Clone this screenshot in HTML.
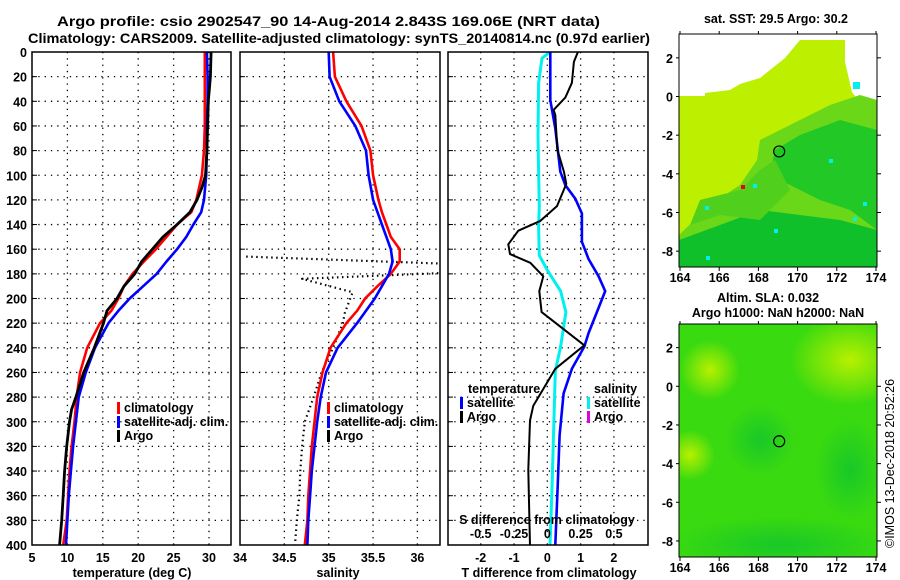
<!DOCTYPE html>
<html><head><meta charset="utf-8">
<style>
html,body{margin:0;padding:0;background:#fff;}
svg{display:block;font-family:"Liberation Sans",sans-serif;}
.t{font-weight:bold;font-size:14px;fill:#000;}
.tk{font-weight:bold;font-size:12.5px;fill:#000;}
</style></head>
<body>
<svg id="fig" width="900" height="580" viewBox="0 0 900 580" xmlns="http://www.w3.org/2000/svg">
<defs>
<clipPath id="c1"><rect x="32" y="52" width="199" height="493"/></clipPath>
<clipPath id="c2"><rect x="240" y="52" width="200" height="493"/></clipPath>
<clipPath id="c3"><rect x="448" y="52" width="200" height="493"/></clipPath>
<clipPath id="cm1"><rect x="679" y="34" width="198" height="233"/></clipPath>
<clipPath id="cm2"><rect x="679" y="324" width="198" height="233"/></clipPath>
<radialGradient id="gy" cx="50%" cy="50%" r="50%"><stop offset="0" stop-color="#b8f000"/><stop offset="1" stop-color="#b8f000" stop-opacity="0"/></radialGradient>
<radialGradient id="gd" cx="50%" cy="50%" r="50%"><stop offset="0" stop-color="#18c828"/><stop offset="1" stop-color="#18c828" stop-opacity="0"/></radialGradient>
</defs>
<text class="t" x="57" y="26" textLength="543" lengthAdjust="spacingAndGlyphs">Argo profile: csio 2902547_90 14-Aug-2014 2.843S 169.06E (NRT data)</text>
<text class="t" x="28" y="43" textLength="622" lengthAdjust="spacingAndGlyphs">Climatology: CARS2009. Satellite-adjusted climatology: synTS_20140814.nc (0.97d earlier)</text>
<g id="grids"></g>
<g id="lines"></g>
<g id="frames"></g>
<g id="maps"></g>
<g id="labels"></g>
<text x="894" y="548" font-size="12.5" transform="rotate(-90 894 548)">©IMOS 13-Dec-2018 20:52:26</text>
</svg>
<script>
// ---- profile data ----
const depthClim = [0,20,40,60,80,100,120,130,140,150,160,170,180,190,200,210,220,240,260,280,300,320,340,360,380,400];
const tempClim  = [29.4,29.4,29.4,29.4,29.3,29.0,28.2,27.5,25.5,24.0,22.5,20.8,19.2,18.0,17.2,16.2,14.6,12.8,11.8,11.3,11.0,10.6,10.3,10.1,9.9,9.4];
const tempSat   = [29.7,29.8,29.8,29.7,29.7,29.6,29.3,28.9,27.8,26.8,25.5,24.0,22.6,20.7,18.8,17.2,15.8,13.9,12.6,11.6,11.2,10.8,10.5,10.2,10.0,9.8];
const depthArgoT = [0,20,40,60,80,100,110,120,130,140,150,160,170,180,190,200,210,220,240,260,280,290,300,320,340,360,380,400];
const tempArgo   = [30.3,30.2,29.9,29.8,29.7,29.5,29.0,28.3,27.3,25.5,23.5,22.0,20.5,19.5,18.0,17.0,15.6,15.1,13.8,12.3,11.2,10.6,10.3,9.9,9.6,9.4,9.2,8.9];
const salClim = [35.05,35.07,35.2,35.37,35.47,35.5,35.56,35.6,35.65,35.7,35.8,35.8,35.7,35.55,35.41,35.32,35.2,35.02,34.93,34.87,34.84,34.81,34.79,34.77,34.76,34.73];
const salSat  = [35.0,35.01,35.12,35.3,35.42,35.45,35.5,35.55,35.6,35.65,35.7,35.72,35.68,35.6,35.52,35.42,35.32,35.1,34.97,34.91,34.87,34.84,34.81,34.79,34.77,34.76];
const depthArgoS = [166,172,179,184,195,212,220,240,260,280,300,320,340,360,380,400];
const salArgo    = [34.07,36.4,36.4,34.70,35.27,35.18,35.16,35.05,34.92,34.83,34.73,34.70,34.68,34.67,34.64,34.62];
const depthDiffT = [0,8,25,37,47,51,79,97,107,125,137,145,156,164,171,182,194,211,238,257,287,299,339,401];
const diffTArgo  = [0.92,0.8,0.74,0.54,0.19,0.24,0.3,0.5,0.57,0.29,-0.21,-0.87,-1.17,-1.12,-0.51,-0.12,-0.24,-0.17,1.11,0.24,-0.42,-0.52,-0.57,-0.52];
const depthDiffSat = [0,39,62,97,108,119,131,154,168,182,194,211,228,239,257,277,311,354,400];
const diffTSat     = [0.09,0.09,0.24,0.39,0.54,0.84,1.04,1.04,1.24,1.54,1.74,1.49,1.24,1.11,0.74,0.49,0.37,0.31,0.24];
const depthDiffS = [0,5,25,68,97,125,142,165,177,194,211,239,259,297,354,400];
const diffSSat   = [0.02,-0.04,-0.065,-0.07,-0.065,-0.06,-0.065,-0.06,0,0.1,0.14,0.1,0.06,0.05,0.035,0.02];
const depthTicks = [0,20,40,60,80,100,120,140,160,180,200,220,240,260,280,300,320,340,360,380,400];
const tempTicks = [5,10,15,20,25,30];
const salTicks = ['34','34.5','35','35.5','36'];
const dTTicks = [-2,-1,0,1,2];
const dSTicks = ['-0.5','-0.25','0','0.25','0.5'];
const lonTicks = [164,166,168,170,172,174];
const latTicks = [2,0,-2,-4,-6,-8];
const argoLon = 169.06, argoLat = -2.843;

const NS='http://www.w3.org/2000/svg';
function mk(tag, attrs, parent){const e=document.createElementNS(NS,tag);for(const k in attrs)e.setAttribute(k,attrs[k]);parent.appendChild(e);return e;}
const yD = d => 52 + d*1.2325;
const xT = v => 32 + (v-5)*7.08;
const xS = v => 240 + (v-34)*88.7;
const xDT = v => 547.3 + v*33.3;
const xDS = v => 547.3 + v*133.2;
const G=document.getElementById('grids'), L=document.getElementById('lines'), F=document.getElementById('frames'), LB=document.getElementById('labels'), M=document.getElementById('maps');

const panels=[{x0:32,x1:231,name:'temperature'},{x0:240,x1:440,name:'salinity'},{x0:448,x1:648,name:'difference'}];
panels.forEach(p=>{
  depthTicks.forEach(d=>{ if(d===0||d===400)return;
    const l=mk('line',{x1:p.x0,x2:p.x1,y1:yD(d),y2:yD(d),stroke:'#000','stroke-width':1.3,'stroke-dasharray':'1.3,5'},G);
    
    
    const t1=mk('line',{x1:p.x0,x2:p.x0+5,y1:yD(d),y2:yD(d),stroke:'#000','stroke-width':1},F);
    
    
  });
  const r=mk('rect',{x:p.x0,y:52,width:p.x1-p.x0,height:493,fill:'none',stroke:'#000','stroke-width':1.5},F);
  
  
});
function vgrid(vals,fx,name){vals.forEach(v=>{const x=fx(+v);
  const l=mk('line',{x1:x,x2:x,y1:52,y2:545,stroke:'#000','stroke-width':1.3,'stroke-dasharray':'1.3,5'},G);
  
  });}
vgrid(tempTicks.slice(1),xT,'temperature');
vgrid(salTicks.slice(1),xS,'salinity');
vgrid(dTTicks,xDT,'t-difference');

function poly(xs,ds,fx,color,w,clip,name,dash){
  const pts=xs.map((v,i)=>fx(v).toFixed(1)+','+yD(ds[i]).toFixed(1)).join(' ');
  const a={points:pts,fill:'none',stroke:color,'stroke-width':w,'clip-path':'url(#'+clip+')','stroke-linejoin':'round'};
  if(dash)a['stroke-dasharray']=dash;
  const e=mk('polyline',a,L);
  
  
}
poly(tempClim,depthClim,xT,'#f00',2.6,'c1','temperature-climatology-line');
poly(tempSat,depthClim,xT,'#00f',2.6,'c1','temperature-satellite-line');
poly(tempArgo,depthArgoT,xT,'#000',2.8,'c1','temperature-argo-line');
poly(salArgo,depthArgoS,xS,'#000',2.2,'c2','salinity-argo-line','1.5,3.5');
poly(salClim,depthClim,xS,'#f00',2.6,'c2','salinity-climatology-line');
poly(salSat,depthClim,xS,'#00f',2.6,'c2','salinity-satellite-line');
poly(diffSSat,depthDiffS,xDS,'#00f0f0',3,'c3','s-diff-satellite-line');
poly(diffTSat,depthDiffSat,xDT,'#00f',2.6,'c3','t-diff-satellite-line');
poly(diffTArgo,depthDiffT,xDT,'#000',2,'c3','t-diff-argo-line');

function txt(s,x,y,anchor,cls,name,fill){const e=mk('text',{x:x,y:y,'text-anchor':anchor||'start',class:cls||'tk'},LB);e.textContent=s;if(fill)e.setAttribute('fill',fill);
  
  return e;}
depthTicks.forEach(d=>txt(String(d),27,yD(d)+5,'end','tk','depth-tick-label'));
tempTicks.forEach(v=>txt(String(v),xT(v),562,'middle','tk','temperature-tick-label'));
salTicks.forEach(v=>txt(v,xS(+v),562,'middle','tk','salinity-tick-label'));
dTTicks.forEach(v=>txt(String(v),xDT(v),562,'middle','tk','t-diff-tick-label'));
dSTicks.forEach(v=>txt(v,xDS(+v),538,'middle','tk','s-diff-tick-label'));
txt('temperature (deg C)',132,577,'middle','tk','temperature-axis-title');
txt('salinity',338,577,'middle','tk','salinity-axis-title');
txt('T difference from climatology',549,577,'middle','tk','t-diff-axis-title');
txt('S difference from climatology',547,524,'middle','tk','s-diff-axis-title');

function legend(x,y,color,label){const r=mk('rect',{x:x,y:y-10,width:3,height:12,fill:color},LB);
  
  
  txt(label,x+7,y,'start','tk','legend-label');}
legend(117,412,'#f00','climatology');legend(117,426,'#00f','satellite-adj. clim.');legend(117,440,'#000','Argo');
legend(327,412,'#f00','climatology');legend(327,426,'#00f','satellite-adj. clim.');legend(327,440,'#000','Argo');
txt('temperature',468,393,'start','tk','legend-heading-temperature');
legend(460,407,'#00f','satellite');legend(460,421,'#000','Argo');
txt('salinity',594,393,'start','tk','legend-heading-salinity');
legend(587,407,'#00f0f0','satellite');legend(587,421,'#e000e0','Argo');

// ---- maps ----
const mx = lon => 680 + (lon-164)*19.6;
function mapAxes(y0,y1,latZeroY,name){
  lonTicks.forEach(v=>{txt(String(v),mx(v),y1+15,'middle','tk',name+'-lon-tick-label');
    const a=mk('line',{x1:mx(v),x2:mx(v),y1:y1,y2:y1+4,stroke:'#000'},LB);
    
    
    const b=mk('line',{x1:mx(v),x2:mx(v),y1:y0,y2:y0-3,stroke:'#000'},LB);
    
    });
  latTicks.forEach(v=>{const y=latZeroY - v*19.33;txt(String(v),673,y+5,'end','tk',name+'-lat-tick-label');
    const a=mk('line',{x1:676,x2:679,y1:y,y2:y,stroke:'#000'},LB);
    
    
    const b=mk('line',{x1:877,x2:881,y1:y,y2:y,stroke:'#000'},LB);
    
    });
  const f=mk('rect',{x:679,y:y0,width:198,height:y1-y0,fill:'none',stroke:'#000','stroke-width':1},LB);
  
  
  const c=mk('circle',{cx:mx(argoLon),cy:latZeroY-argoLat*19.33,r:5.5,fill:'none',stroke:'#000','stroke-width':1.2},LB);
  
  
}
const g1=mk('g',{'clip-path':'url(#cm1)'},M);


mk('rect',{x:679,y:34,width:198,height:233,fill:'#fff'},g1);
mk('polygon',{points:'679,96 705,96 705,93 730,90 740,84 760,78 770,70 785,58 795,46 800,40 877,40 877,267 679,267',fill:'#bdf000'},g1);
mk('polygon',{points:'845,38 877,38 877,103 870,103 858,100 852,92 845,62',fill:'#fff'},g1);
mk('polygon',{points:'760,140 790,125 830,105 860,95 877,100 877,267 679,267 679,235 710,205 740,185 757,160',fill:'#6ad818'},g1);
mk('polygon',{points:'775,150 800,135 840,120 877,130 877,230 850,210 820,200 790,185 770,175',fill:'#22c826'},g1);
mk('polygon',{points:'679,240 720,225 760,210 800,215 840,220 877,230 877,267 679,267',fill:'#10c02a'},g1);
mk('polygon',{points:'700,200 740,190 760,170 775,160 790,190 760,220 720,215 690,225',fill:'#50d01c'},g1);
mk('rect',{x:705,y:206,width:4,height:4,fill:'#00f0f0'},g1);
mk('rect',{x:753,y:184,width:4,height:4,fill:'#00f0f0'},g1);
mk('rect',{x:829,y:159,width:4,height:4,fill:'#00f0f0'},g1);
mk('rect',{x:863,y:202,width:4,height:4,fill:'#00f0f0'},g1);
mk('rect',{x:853,y:217,width:4,height:4,fill:'#00f0f0'},g1);
mk('rect',{x:774,y:229,width:4,height:4,fill:'#00f0f0'},g1);
mk('rect',{x:706,y:256,width:4,height:4,fill:'#00f0f0'},g1);
mk('rect',{x:853,y:82,width:7,height:7,fill:'#00f0f0'},g1);
mk('rect',{x:741,y:185,width:4,height:4,fill:'#f00000'},g1);
const g2=mk('g',{'clip-path':'url(#cm2)'},M);


mk('rect',{x:679,y:324,width:198,height:233,fill:'#3ada10'},g2);
mk('ellipse',{cx:850,cy:360,rx:60,ry:45,fill:'url(#gy)'},g2);
mk('ellipse',{cx:710,cy:370,rx:30,ry:30,fill:'url(#gy)'},g2);
mk('ellipse',{cx:690,cy:455,rx:25,ry:25,fill:'url(#gy)'},g2);
mk('ellipse',{cx:780,cy:545,rx:110,ry:28,fill:'url(#gd)'},g2);
mk('ellipse',{cx:850,cy:470,rx:35,ry:50,fill:'url(#gd)'},g2);
mk('ellipse',{cx:760,cy:440,rx:35,ry:35,fill:'url(#gd)'},g2);
mapAxes(34,267,96.5,'sst-map');
mapAxes(324,557,386.3,'sla-map');
txt('sat. SST: 29.5 Argo: 30.2',776,23,'middle','tk','sst-map-title');
txt('Altim. SLA: 0.032',768,302,'middle','tk','sla-map-title-1');
txt('Argo h1000: NaN h2000: NaN',778,317,'middle','tk','sla-map-title-2');
</script>
</body></html>
